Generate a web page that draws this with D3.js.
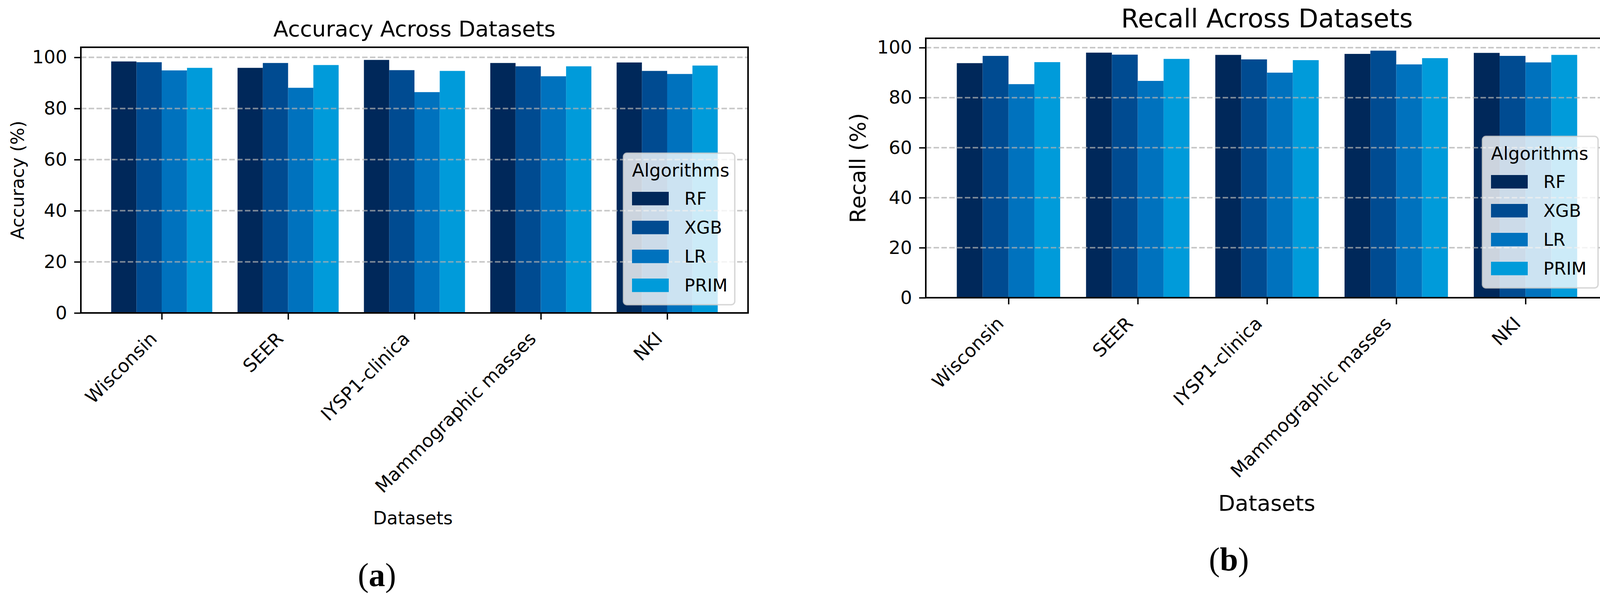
<!DOCTYPE html>
<html>
<head>
<meta charset="utf-8">
<script src="https://cdn.jsdelivr.net/npm/d3@7"></script>
<style>
    body { margin: 0; background: #fff; }
    svg { font-family: "DejaVu Sans", sans-serif; }
</style>
</head>
<body>
<div id="root"></div>
<script>
// categories and series
var datasets = ["Wisconsin", "SEER", "IYSP1-clinica", "Mammographic masses", "NKI"];
var algorithms = ["RF", "XGB", "LR", "PRIM"];
var colors = ["#00285a", "#004b91", "#0072be", "#009bda"];
var yTicks = [0, 20, 40, 60, 80, 100];

// accuracy (%) per algorithm, one value per dataset
var accuracyRF   = [98.4, 95.9, 99.0, 97.8, 98.0];
var accuracyXGB  = [98.1, 97.8, 95.0, 96.5, 94.7];
var accuracyLR   = [94.9, 88.1, 86.4, 92.6, 93.5];
var accuracyPRIM = [95.9, 97.0, 94.7, 96.5, 96.8];

// recall (%) per algorithm
var recallRF   = [93.8, 98.0, 97.1, 97.5, 97.9];
var recallXGB  = [96.7, 97.2, 95.3, 98.8, 96.7];
var recallLR   = [85.4, 86.7, 90.0, 93.3, 94.1];
var recallPRIM = [94.2, 95.5, 95.0, 95.8, 97.1];

var svg = d3.select("#root").append("svg")
    .attr("width", 4152)
    .attr("height", 1546);

svg.append("rect").attr("width", 4152).attr("height", 1546).attr("fill", "#fff");

drawChart({
    series: [accuracyRF, accuracyXGB, accuracyLR, accuracyPRIM],
    left: 207, right: 1915, top: 121, bottom: 801,
    title: "Accuracy Across Datasets", titleSize: 56, titleY: 93,
    ylabel: "Accuracy (%)", ylabelX: 61, labelSize: 46,
    xlabelX: 1057, xlabelY: 1342,
    legendX: 1596, legendY: 392, legendW: 285,
    caption: "a", captionX: 965, captionY: 1500
});

drawChart({
    series: [recallRF, recallXGB, recallLR, recallPRIM],
    left: 2370, right: 4117, top: 98, bottom: 762,
    title: "Recall Across Datasets", titleSize: 66, titleY: 70,
    ylabel: "Recall (%)", ylabelX: 2215, labelSize: 56,
    xlabelX: 3243, xlabelY: 1307,
    legendX: 3795, legendY: 349, legendW: 296,
    caption: "b", captionX: 3146, captionY: 1460
});

function drawChart(c) {
    var g = svg.append("g");
    var allValues = d3.merge(c.series);

    // matplotlib style margins: bars span -0.4..4.4, plus 5%
    var x = d3.scaleLinear()
        .domain([-0.64, datasets.length - 1 + 0.64])
        .range([c.left, c.right]);
    var y = d3.scaleLinear()
        .domain([0, d3.max(allValues) * 1.05])
        .range([c.bottom, c.top]);

    var barW = 0.2;

    // bars
    c.series.forEach(function(values, j) {
        g.selectAll(".bar-" + j)
            .data(values)
            .enter().append("rect")
            .attr("class", "bar-" + j)
            .attr("x", function(d, i) { return x(i + (j - 1.5) * barW - barW / 2); })
            .attr("width", x(barW) - x(0))
            .attr("y", function(d) { return y(d); })
            .attr("height", function(d) { return y(0) - y(d); })
            .attr("fill", colors[j]);
    });

    // dashed grid drawn over the bars
    g.selectAll(".grid")
        .data(yTicks.filter(function(t) { return t > 0; }))
        .enter().append("line")
        .attr("class", "grid")
        .attr("x1", c.left).attr("x2", c.right)
        .attr("y1", function(d) { return y(d); })
        .attr("y2", function(d) { return y(d); })
        .attr("stroke", "#b0b0b0")
        .attr("stroke-opacity", 0.7)
        .attr("stroke-width", 4)
        .attr("stroke-dasharray", "14,6");

    // y axis
    var yAxis = g.append("g")
        .attr("transform", "translate(" + c.left + ",0)")
        .call(d3.axisLeft(y).tickValues(yTicks).tickSize(17).tickPadding(18));
    yAxis.select(".domain").remove();
    yAxis.selectAll("line").attr("stroke", "#000").attr("stroke-width", 3.5);
    yAxis.selectAll("text")
        .attr("font-size", 47)
        .attr("font-family", "DejaVu Sans")
        .attr("fill", "#000");

    // x axis with rotated labels
    var xAxis = g.append("g")
        .attr("transform", "translate(0," + c.bottom + ")")
        .call(d3.axisBottom(x)
            .tickValues(d3.range(datasets.length))
            .tickFormat(function(i) { return datasets[i]; })
            .tickSize(17));
    xAxis.select(".domain").remove();
    xAxis.selectAll("line").attr("stroke", "#000").attr("stroke-width", 3.5);
    xAxis.selectAll("text")
        .attr("y", 0)
        .attr("dy", 0)
        .attr("text-anchor", "end")
        .attr("transform", "translate(-10,69) rotate(-45)")
        .attr("font-size", 47)
        .attr("font-family", "DejaVu Sans")
        .attr("fill", "#000");

    // frame
    g.append("rect")
        .attr("x", c.left).attr("y", c.top)
        .attr("width", c.right - c.left)
        .attr("height", c.bottom - c.top)
        .attr("fill", "none")
        .attr("stroke", "#000")
        .attr("stroke-width", 4);

    // titles
    g.append("text")
        .attr("x", (c.left + c.right) / 2)
        .attr("y", c.titleY)
        .attr("text-anchor", "middle")
        .attr("font-size", c.titleSize)
        .text(c.title);

    g.append("text")
        .attr("transform", "translate(" + c.ylabelX + "," + ((c.top + c.bottom) / 2) + ") rotate(-90)")
        .attr("text-anchor", "middle")
        .attr("font-size", c.labelSize)
        .text(c.ylabel);

    g.append("text")
        .attr("x", c.xlabelX)
        .attr("y", c.xlabelY)
        .attr("text-anchor", "middle")
        .attr("font-size", c.labelSize)
        .text("Datasets");

    // legend
    var lg = g.append("g").attr("transform", "translate(" + c.legendX + "," + c.legendY + ")");
    lg.append("rect")
        .attr("width", c.legendW)
        .attr("height", 388)
        .attr("rx", 9)
        .attr("fill", "#fff")
        .attr("fill-opacity", 0.8)
        .attr("stroke", "#cccccc")
        .attr("stroke-opacity", 0.8)
        .attr("stroke-width", 3.5);
    lg.append("text")
        .attr("x", 22)
        .attr("y", 60)
        .attr("font-size", 46)
        .text("Algorithms");
    var item = lg.selectAll(".item")
        .data(algorithms)
        .enter().append("g")
        .attr("class", "item")
        .attr("transform", function(d, i) { return "translate(22," + (99 + i * 74) + ")"; });
    item.append("rect")
        .attr("width", 94)
        .attr("height", 34.5)
        .attr("fill", function(d, i) { return colors[i]; });
    item.append("text")
        .attr("x", 134)
        .attr("y", 17)
        .attr("dy", "0.36em")
        .attr("font-size", 45)
        .text(function(d) { return d; });

    // panel caption, serif with bold letter
    var cap = g.append("text")
        .attr("x", c.captionX)
        .attr("y", c.captionY)
        .attr("text-anchor", "middle")
        .style("font-family", "'Liberation Serif', serif")
        .attr("font-size", 84);
    cap.append("tspan").text("(");
    cap.append("tspan").style("font-weight", "bold").text(c.caption);
    cap.append("tspan").text(")");
}
</script>
</body>
</html>
